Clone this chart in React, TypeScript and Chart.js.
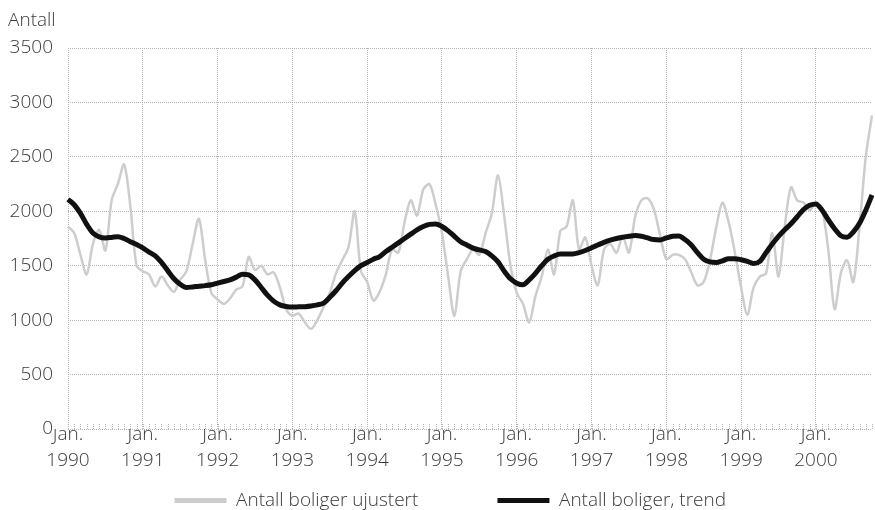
import { useEffect, useRef } from 'react';
import { Chart, registerables } from 'chart.js';

Chart.register(...registerables);

const YEARS = ['1990', '1991', '1992', '1993', '1994', '1995', '1996', '1997', '1998', '1999', '2000'];
const MONTH_LABEL = 'Jan.';
const Y_AXIS_TITLE = 'Antall';
const SERIES_NAMES = ['Antall boliger ujustert', 'Antall boliger, trend'];

// Monthly values, Jan 1990 - Oct 2000
const UNADJUSTED = [
  1860, 1800, 1600, 1420, 1700, 1830, 1640, 2100, 2250, 2430, 2050, 1500,
  1450, 1420, 1310, 1400, 1320, 1260, 1370, 1450, 1700, 1930, 1560, 1250,
  1190, 1150, 1200, 1280, 1310, 1580, 1460, 1500, 1420, 1440, 1300, 1100,
  1040, 1060, 980, 920, 1000, 1120, 1250, 1430, 1550, 1670, 2000, 1450,
  1350, 1180, 1260, 1420, 1650, 1620, 1900, 2100, 1960, 2200, 2250, 2060,
  1800, 1400, 1040, 1450, 1560, 1650, 1600, 1800, 1980, 2330, 1950, 1500,
  1250, 1150, 980, 1220, 1400, 1650, 1420, 1820, 1860, 2100, 1650, 1760,
  1500, 1320, 1650, 1700, 1620, 1770, 1620, 1950, 2100, 2120, 2020, 1780,
  1560, 1600, 1600, 1560, 1440, 1320, 1350, 1550, 1850, 2080, 1900, 1620,
  1300, 1050, 1300, 1400, 1430, 1800, 1400, 1860, 2220, 2100, 2080, 2010,
  2070, 2010, 1640, 1100, 1430, 1550, 1350, 1860, 2500, 2880,
];

const TREND = [
  2110, 2060, 1980, 1880, 1800, 1765, 1755, 1760, 1767, 1750, 1721, 1695,
  1663, 1625, 1590, 1530, 1455, 1380, 1330, 1300, 1305, 1312, 1317, 1325,
  1340, 1355, 1370, 1395, 1422, 1415, 1370, 1300, 1230, 1175, 1140, 1125,
  1120, 1122, 1124, 1130, 1140, 1157, 1210, 1270, 1340, 1400, 1455, 1500,
  1530, 1560, 1584, 1630, 1670, 1710, 1750, 1790, 1830, 1860, 1880, 1884,
  1860, 1820, 1770, 1720, 1690, 1661, 1645, 1630, 1590, 1535, 1450, 1380,
  1340, 1325, 1370, 1430, 1500, 1560, 1590, 1608, 1608, 1608, 1620, 1640,
  1665, 1690, 1715, 1735, 1750, 1762, 1770, 1777, 1770, 1755, 1740, 1737,
  1755, 1770, 1774, 1740, 1690, 1620, 1560, 1535, 1530, 1545, 1565, 1565,
  1555, 1540, 1520, 1540, 1620, 1700, 1770, 1830, 1885, 1950, 2015, 2055,
  2068, 2010, 1920, 1840, 1775, 1762, 1810, 1890, 2010, 2150,
];

const Y_MIN = 0;
const Y_MAX = 3500;
const Y_STEP = 500;

const GRID = '#b4b4b4';
const GRAY_LINE = '#cdcdcd';
const TREND_LINE = '#111111';
const TEXT = '#3a3a3a';
const FONT_FAMILY = "'Open Sans', 'Noto Sans', sans-serif";

const monthTicks = {
  id: 'monthTicks',
  beforeDatasetsDraw(chart: any) {
    const { ctx, chartArea, scales } = chart;
    const x = scales.x;
    ctx.save();
    ctx.strokeStyle = GRID;
    ctx.lineWidth = 1;
    ctx.setLineDash([1, 1]);
    const n = chart.data.labels.length;
    for (let i = 0; i < n; i++) {
      const px = Math.round(x.getPixelForValue(i)) + 0.5;
      ctx.beginPath();
      ctx.moveTo(px, chartArea.bottom);
      ctx.lineTo(px, chartArea.bottom - 6);
      ctx.stroke();
    }
    ctx.restore();
  },
};

export default function App() {
  const ref = useRef<HTMLCanvasElement>(null);

  useEffect(() => {
    const labels = UNADJUSTED.map((_, i) => (i % 12 === 0 ? [MONTH_LABEL, YEARS[i / 12]] : ''));
    const font = { family: FONT_FAMILY, size: 19, weight: '300' as any, lineHeight: 1.3 };

    const chart = new Chart(ref.current!, {
      type: 'line',
      data: {
        labels,
        datasets: [
          {
            label: SERIES_NAMES[1],
            data: TREND,
            borderColor: TREND_LINE,
            backgroundColor: TREND_LINE,
            borderWidth: 5,
            pointRadius: 0,
            tension: 0.4,
            cubicInterpolationMode: 'monotone',
          },
          {
            label: SERIES_NAMES[0],
            data: UNADJUSTED,
            borderColor: GRAY_LINE,
            backgroundColor: GRAY_LINE,
            borderWidth: 2.5,
            pointRadius: 0,
            tension: 0.3,
          },
        ],
      },
      options: {
        responsive: false,
        animation: false,
        layout: { padding: { left: 0, right: 3, top: 48, bottom: 0 } },
        scales: {
          x: {
            grid: {
              color: (c: any) => (c.index % 12 === 0 ? GRID : 'rgba(0,0,0,0)'),
              lineWidth: 1,
              drawTicks: false,
            },
            border: { display: false, dash: [1, 1] },
            ticks: {
              autoSkip: false,
              maxRotation: 0,
              minRotation: 0,
              padding: -7,
              color: TEXT,
              font: { ...font, lineHeight: 1.35 },
            },
            afterFit: (s: any) => {
              s.height = 52;
            },
          },
          y: {
            min: Y_MIN,
            max: Y_MAX,
            ticks: {
              stepSize: Y_STEP,
              padding: 15,
              color: TEXT,
              font,
              callback: (v: any) => String(v),
            },
            grid: { color: GRID, lineWidth: 1, drawTicks: false },
            border: { display: false, dash: [1, 1] },
            afterFit: (s: any) => {
              s.width = 68;
            },
          },
        },
        plugins: {
          tooltip: { enabled: false },
          legend: {
            position: 'bottom',
            fullSize: false,
            labels: {
              boxWidth: 52,
              boxHeight: 5,
              padding: 10,
              color: TEXT,
              font,
              generateLabels: (ch: any) => {
                const items = Chart.defaults.plugins.legend.labels.generateLabels(ch);
                items.sort((a: any, b: any) => b.datasetIndex - a.datasetIndex);
                return items.map((it: any, k: number) => ({
                  ...it,
                  lineWidth: 0,
                  fillStyle: it.strokeStyle,
                  text: k === 0 ? it.text + ' '.repeat(14) : it.text + ' '.repeat(8),
                }));
              },
            },
          },
        },
      },
      plugins: [monthTicks],
    });
    return () => chart.destroy();
  }, []);

  return (
    <div style={{ position: 'fixed', left: 0, top: 0, width: 875, height: 510, overflow: 'hidden', background: '#fff' }}>
      <div
        style={{
          position: 'absolute',
          left: 8,
          top: 6,
          fontFamily: FONT_FAMILY,
          fontWeight: 300,
          fontSize: 19,
          color: TEXT,
          lineHeight: '26px',
        }}
      >
        {Y_AXIS_TITLE}
      </div>
      <canvas ref={ref} width={875} height={520} style={{ display: 'block', width: 875, height: 520 }} />
    </div>
  );
}
